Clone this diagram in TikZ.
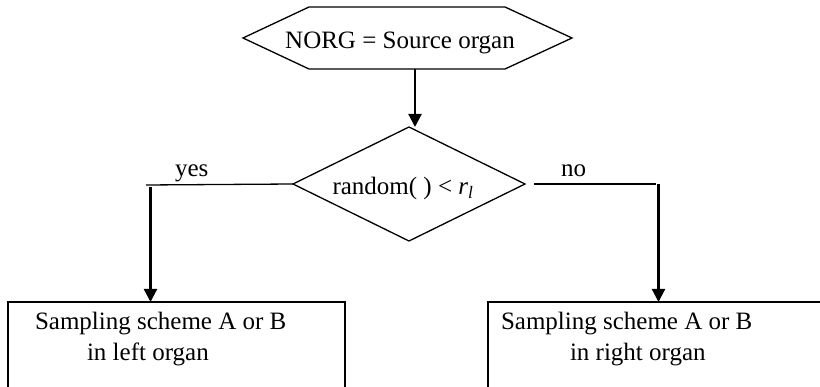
\documentclass[tikz,border=0pt]{standalone}
\usepackage{fontspec}
\setmainfont{Liberation Serif}
\usetikzlibrary{shapes.geometric,arrows.meta}
\begin{document}
\begin{tikzpicture}[x=1pt,y=-1pt,
  txt/.style={font=\fontsize{25}{30}\selectfont, inner sep=0pt, outer sep=0pt},
  edge/.style={line width=1.3pt},
  flow/.style={line width=2.2pt, -{Triangle[width=13pt,length=13pt]}},
  boxnode/.style={draw, line width=1.3pt, anchor=north west, inner sep=0pt, outer sep=0pt},
  decision/.style={diamond, draw, line width=1.3pt, inner sep=0pt, outer sep=0pt,
                   minimum width=232pt, minimum height=114pt}]
\useasboundingbox (0,0) rectangle (820,387);
\clip (0,0) rectangle (820,387);
% hexagon start node
\node[inner sep=0pt, outer sep=0pt, minimum width=329pt, minimum height=62pt] (hex) at (407.5,38) {};
\draw[edge] (hex.west) -- ([xshift=66pt]hex.north west) -- ([xshift=-67pt]hex.north east)
  -- (hex.east) -- ([xshift=-67pt]hex.south east) -- ([xshift=66pt]hex.south west) -- cycle;
\node[txt, anchor=base] (hextxt) at (400,49) {NORG = Source organ};
% decision
\node[decision] (dec) at (409,184) {};
\node[txt, anchor=base] (dectxt) at (403,195) {random( ) < {\itshape r}\textsubscript{\itshape l}};
% boxes
\node[boxnode, minimum width=337pt, minimum height=120pt] (lbox) at (8,302) {};
\node[boxnode, minimum width=360pt, minimum height=120pt] (rbox) at (488,302) {};
\node[txt, anchor=base west] (l1) at (35,330) {Sampling scheme A or B};
\node[txt, anchor=base west] (l2) at (87,361) {in left organ};
\node[txt, anchor=base west] (r1) at (501,330) {Sampling scheme A or B};
\node[txt, anchor=base west] (r2) at (570,361) {in right organ};
% labels
\node[txt, anchor=base west] (yes) at (175,177) {yes};
\node[txt, anchor=base west] (no) at (561,177) {no};
% connectors
\coordinate (hexout) at (415,69);
\draw[flow] (hexout) -- (hexout |- dec.north);
\coordinate (yl) at (146,185);
\draw[edge] (dec.west) -- (yl);
\coordinate (ylt) at (150.5,187);
\draw[flow] (ylt) -- (ylt |- lbox.north);
\coordinate (nl0) at (534,184);
\coordinate (nl1) at (656,184);
\draw[edge] (nl0) -- (nl1);
\coordinate (nrt) at (658.5,184);
\draw[flow] (nrt) -- (nrt |- rbox.north);
\end{tikzpicture}
\end{document}
